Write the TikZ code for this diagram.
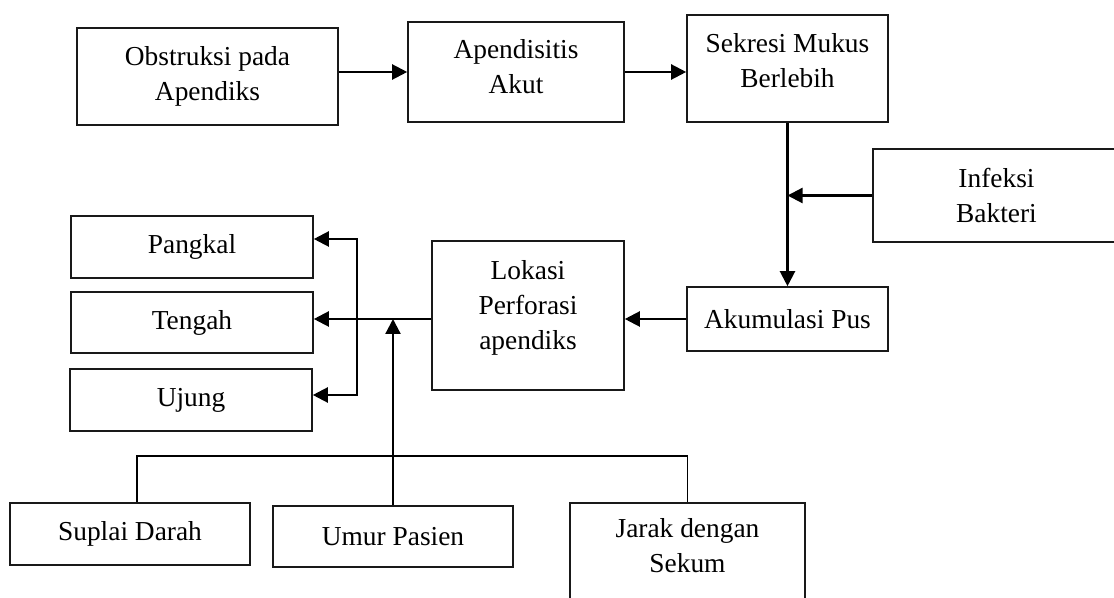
\documentclass[tikz,border=0pt]{standalone}
\usepackage{fontspec}
\setmainfont{Liberation Serif}
\usetikzlibrary{arrows.meta}
\usetikzlibrary{calc}

\tikzset{
  kotak/.style={draw=black!90, line width=0.8pt, inner sep=0pt, align=center,
    font=\fontsize{13.7}{17.5}\selectfont},
  panah/.style={line width=1.1pt, ->},
  garis/.style={line width=0.8pt}
}

\begin{document}
\begin{tikzpicture}[x=0.5pt, y=-0.5pt, >={Triangle[length=7.5pt,width=7.5pt]}]
      \clip (0,0) rectangle (1114,598);

      % baris atas
      \node at (207.5,76.5) [kotak, minimum width=130.5pt, minimum height=48.5pt, name=obs]
      {Obstruksi pada\\Apendiks};
      \node at (516,72) [kotak, minimum width=108pt, minimum height=50pt, text depth=6pt, name=akut]
      {Apendisitis\\Akut};
      \node at (787.5,68.5) [kotak, minimum width=100.5pt, minimum height=53.5pt, text depth=8pt, name=mukus]
      {Sekresi Mukus\\Berlebih};
      \node at (996.5,195.5) [kotak, minimum width=123.5pt, minimum height=46.5pt, name=infeksi]
      {Infeksi\\Bakteri};

      % baris tengah
      \node at (787.5,319) [kotak, minimum width=100.5pt, minimum height=32pt, name=pus]
      {Akumulasi Pus};
      \node at (528,315.5) [kotak, minimum width=96pt, minimum height=74.5pt, text depth=11pt, name=lokasi]
      {Lokasi\\Perforasi\\apendiks};
      \node at (192,247) [kotak, minimum width=121pt, minimum height=31pt, name=pangkal]
      {Pangkal};
      \node at (192,322.5) [kotak, minimum width=121pt, minimum height=30.5pt, name=tengah]
      {Tengah};
      \node at (191,400) [kotak, minimum width=121pt, minimum height=31pt, name=ujung]
      {Ujung};

      % faktor
      \node at (130,534) [kotak, minimum width=120pt, minimum height=31pt, name=suplai]
      {Suplai Darah};
      \node at (393,536.5) [kotak, minimum width=120pt, minimum height=30.5pt, name=umur]
      {Umur Pasien};
      \node at (687.5,561.5) [kotak, minimum width=117.5pt, minimum height=58.5pt, text depth=16pt, name=jarak]
      {Jarak dengan\\Sekum};

      \coordinate (cabang) at (357,319);
      \coordinate (temu) at (393,319);
      \coordinate (rel) at (0,456);

      \draw [panah] (obs.east |- akut.west) -- (akut.west);
      \draw [panah] (akut.east) -- (akut.east -| mukus.west);
      \draw [panah] (mukus.south) -- (pus.north);
      \draw [panah] (infeksi.west) -- (infeksi.west -| mukus.south);
      \draw [panah] (pus.west) -- (pus.west -| lokasi.east);
      \draw [panah] (lokasi.west |- cabang) -- (cabang -| tengah.east);
      \draw [panah] (cabang) |- ([yshift=4pt]pangkal.east);
      \draw [panah] (cabang) |- ([yshift=2.5pt]ujung.east);
      \draw [panah] (umur.north) -- (temu);
      \draw [garis] ([xshift=3.5pt]suplai.north) |- (rel -| jarak.north) -- (jarak.north);

    \end{tikzpicture}
\end{document}
